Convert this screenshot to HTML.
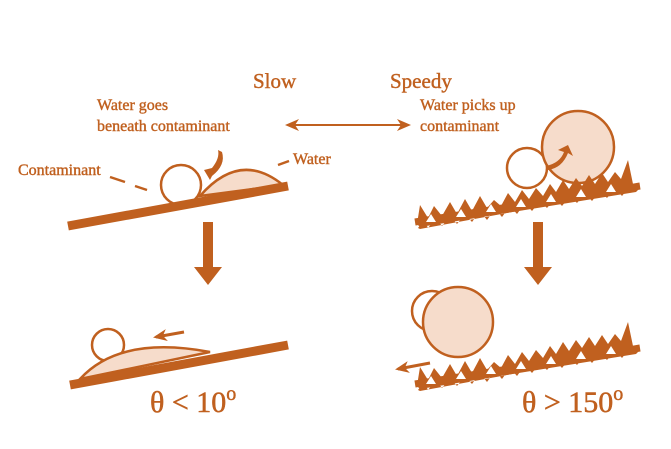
<!DOCTYPE html><html><head><style>body{margin:0;background:#fff}</style></head><body>
<svg width="671" height="444" viewBox="0 0 671 444" xmlns="http://www.w3.org/2000/svg" font-family="Liberation Serif, serif" fill="#C0601F">
<defs><marker id="ah" markerUnits="userSpaceOnUse" markerWidth="14" markerHeight="12" refX="11" refY="6" orient="auto-start-reverse"><path d="M0,0 L14,6 L0,12 L4,6z" fill="#C0601F"/></marker></defs>
<g stroke="#C0601F" stroke-width="0.4">
<text x="253" y="88" font-size="21">Slow</text>
<text x="390" y="88" font-size="21">Speedy</text>
<text x="97" y="110" font-size="16">Water goes</text>
<text x="97" y="131" font-size="16">beneath contaminant</text>
<text x="420" y="110" font-size="16">Water picks up</text>
<text x="420" y="131" font-size="16">contaminant</text>
<text x="18" y="175" font-size="16">Contaminant</text>
<text x="293" y="164" font-size="16">Water</text>
</g>
<line x1="288" y1="125" x2="408" y2="125" stroke="#C0601F" stroke-width="2" marker-end="url(#ah)" marker-start="url(#ah)"/>
<g stroke="#C0601F" stroke-width="2.5">
<line x1="110" y1="177" x2="125" y2="182"/><line x1="135" y1="186" x2="147" y2="190"/>
<line x1="278" y1="165" x2="289" y2="161"/>
<path d="M200,196 Q240,150 283,185 Z" fill="#F6DCCB"/>
<circle cx="181" cy="185" r="20" fill="#fff"/>
</g>
<path d="M212,168 Q220,158 218,150 L222,152 Q226,165 212,176 L210,180 L204,170z"/>
<line x1="68" y1="226" x2="288" y2="186" stroke="#C0601F" stroke-width="9"/>
<path d="M203,222h10v45h9l-14,18-14,-18h9z"/>
<path d="M533,222h10v45h9l-14,18-14,-18h9z"/>
<g stroke="#C0601F" stroke-width="2.5">
<circle cx="108" cy="345" r="16" fill="#fff"/>
<path d="M80,379 Q120,335 210,352 Z" fill="#F6DCCB"/>
</g>
<line x1="184" y1="332" x2="156" y2="337" stroke="#C0601F" stroke-width="3" marker-end="url(#ah)"/>
<line x1="70" y1="385" x2="288" y2="345" stroke="#C0601F" stroke-width="9"/>
<text x="150" y="412" font-size="30" stroke="#C0601F" stroke-width="0.5">θ &lt; 10<tspan dy="-12" font-size="20">o</tspan></text>
<g stroke="#C0601F" stroke-width="2.5">
<circle cx="527" cy="168" r="20" fill="#fff"/>
<circle cx="578" cy="147" r="36" fill="#F6DCCB"/>
</g>
<path d="M548,170 Q562,168 568,153 L573,156 L568,145 L558,150 L564,152 Q560,163 546,166z"/>
<g id="sp">
<line x1="415" y1="222" x2="640" y2="186" stroke="#C0601F" stroke-width="7"/>
<path d="M417,224 L420,205 L428,218 L434,206 L442,216 L450,202 L457,214 L465,199 L472,211 L480,196 L487,208 L494,200 L501,206 L508,193 L515,202 L522,190 L529,199 L536,188 L543,196 L550,184 L556,192 L563,180 L569,189 L576,178 L582,186 L589,175 L595,184 L602,173 L608,182 L615,172 L621,179 L628,160 L633,184 L640,188 L636,192 L420,227z"/>
<path d="M418,228 L424,220 L428,228 L436,218 L442,226 L450,216 L457,224 L465,214 L472,222 L480,211 L487,220 L495,209 L502,217 L510,206 L517,214 L525,203 L532,211 L540,201 L547,208 L555,198 L562,206 L570,196 L577,203 L585,193 L592,201 L600,191 L607,198 L615,188 L622,196 L630,186 L632,190 L420,229z"/>
<path d="M426,222 L431,214 L436,222z M456,217 L461,209 L466,217z M486,212 L491,204 L496,212z M516,207 L521,199 L526,207z M546,202 L551,194 L556,202z M576,197 L581,189 L586,197z M606,192 L611,184 L616,192z" fill="#fff"/>
</g>
<g stroke="#C0601F" stroke-width="2.5">
<circle cx="432" cy="311" r="20" fill="#fff"/>
<circle cx="458" cy="322" r="35" fill="#F6DCCB"/>
</g>
<use href="#sp" transform="translate(0,162)"/>
<line x1="430" y1="363" x2="398" y2="369" stroke="#C0601F" stroke-width="3" marker-end="url(#ah)"/>
<text x="522" y="412" font-size="30" stroke="#C0601F" stroke-width="0.5">θ &gt; 150<tspan dy="-12" font-size="20">o</tspan></text>
</svg>
</body></html>
